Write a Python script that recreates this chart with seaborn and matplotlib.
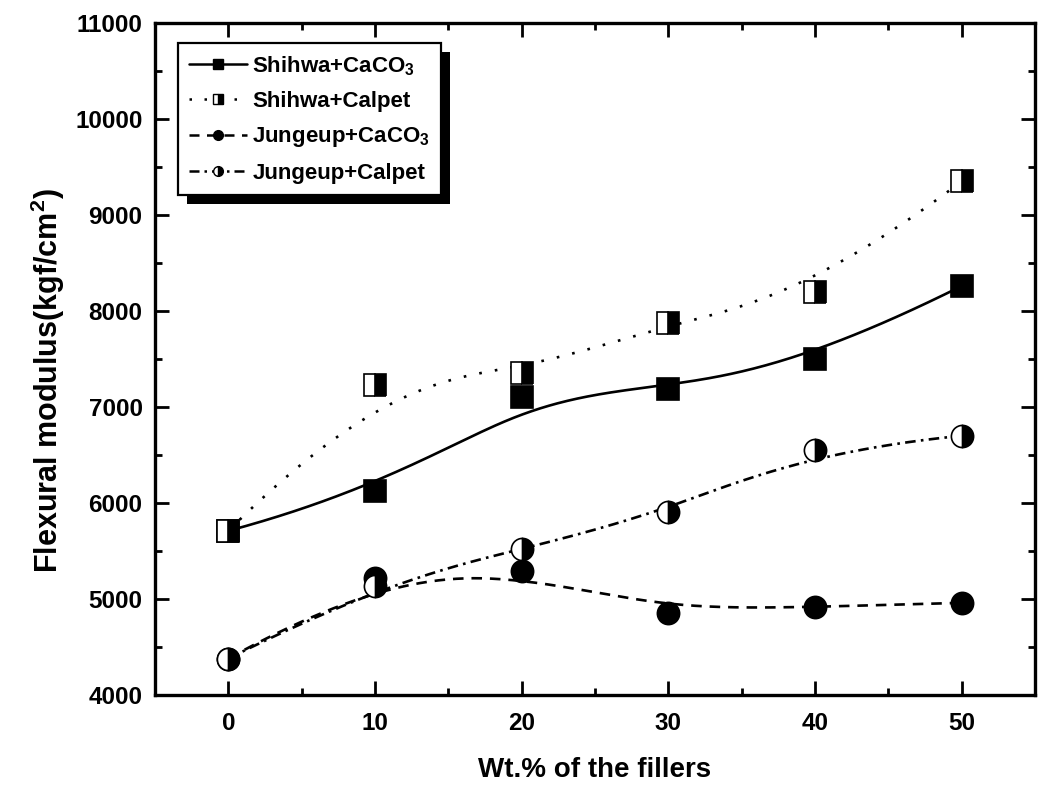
import numpy as np
import matplotlib
matplotlib.use("Agg")
import matplotlib.pyplot as plt
from matplotlib.lines import Line2D
from matplotlib.patches import Rectangle
import seaborn as sns

# ---- data ----
filler_wt = [0, 10, 20, 30, 40, 50]
shihwa_caco3 = [5710, 6120, 7100, 7190, 7500, 8260]
shihwa_calpet = [5710, 7230, 7350, 7880, 8200, 9350]
jungeup_caco3 = [4380, 5220, 5290, 4850, 4920, 4960]
jungeup_calpet = [4380, 5140, 5520, 5910, 6550, 6700]
series_labels = ["Shihwa+CaCO$_3$", "Shihwa+Calpet",
                 "Jungeup+CaCO$_3$", "Jungeup+Calpet"]
x_ticks = [0, 10, 20, 30, 40, 50]
y_ticks = [4000, 5000, 6000, 7000, 8000, 9000, 10000, 11000]

sns.set_style("ticks")
plt.rcParams["font.family"] = ["Liberation Sans", "DejaVu Sans"]
plt.rcParams["font.weight"] = "bold"
plt.rcParams["mathtext.fontset"] = "custom"
plt.rcParams["mathtext.rm"] = "Liberation Sans:bold"
plt.rcParams["mathtext.bf"] = "Liberation Sans:bold"
plt.rcParams["mathtext.default"] = "bf"
for key in ["text.color", "axes.labelcolor", "xtick.color", "ytick.color",
            "axes.edgecolor"]:
    plt.rcParams[key] = "black"


def bspline_curve(xs, ys, k=3, n=300):
    """Clamped cubic B-spline with the data points as control points (Origin 'B-Spline')."""
    P = np.column_stack([xs, ys]).astype(float)
    m = len(P)
    knots = np.concatenate([[0] * k, np.arange(m - k + 1), [m - k] * k]).astype(float)
    t = np.linspace(0, m - k, n)
    t[-1] -= 1e-9
    N = np.zeros((n, len(knots) - 1))
    for i in range(len(knots) - 1):
        N[:, i] = (t >= knots[i]) & (t < knots[i + 1])
    for d in range(1, k + 1):
        Nn = np.zeros((n, len(knots) - 1 - d))
        for i in range(len(knots) - 1 - d):
            a = knots[i + d] - knots[i]
            b = knots[i + d + 1] - knots[i + 1]
            term = np.zeros(n)
            if a > 0:
                term += (t - knots[i]) / a * N[:, i]
            if b > 0:
                term += (knots[i + d + 1] - t) / b * N[:, i + 1]
            Nn[:, i] = term
        N = Nn
    C = N @ P
    return C[:, 0], C[:, 1]


fig = plt.figure(figsize=(10.45, 7.91), dpi=100)
ax = fig.add_axes([155 / 1045, 96 / 791, 880 / 1045, 672 / 791])

lw = 1.9
styles = [
    dict(ls="-", marker="s", fill="full"),
    dict(ls=(0, (1, 5)), marker="s", fill="right"),
    dict(ls=(0, (4, 3)), marker="o", fill="full"),
    dict(ls=(0, (4, 2, 1, 2)), marker="o", fill="right"),
]
all_series = [shihwa_caco3, shihwa_calpet, jungeup_caco3, jungeup_calpet]

for vals, st in zip(all_series, styles):
    cx, cy = bspline_curve(filler_wt, vals)
    sns.lineplot(x=cx, y=cy, sort=False, estimator=None, color="black",
                 linewidth=lw, linestyle=st["ls"], ax=ax, legend=False)

for vals, st in zip(all_series, styles):
    ax.plot(filler_wt, vals, linestyle="none", marker=st["marker"],
            markersize=15.5 if st["marker"] == "s" else 16,
            markerfacecolor="black", markerfacecoloralt="white",
            fillstyle=st["fill"], markeredgecolor="black",
            markeredgewidth=1.2, zorder=5)

ax.set_xlim(-5, 55)
ax.set_ylim(4000, 11000)
ax.set_xticks(x_ticks)
ax.set_yticks(y_ticks)
ax.set_xticks(np.arange(-5, 56, 5), minor=True)
ax.set_yticks(np.arange(4000, 11001, 500), minor=True)
ax.tick_params(which="both", direction="in", top=True, right=True,
               width=2, labelsize=17.5, colors="black")
ax.tick_params(which="major", length=10)
ax.tick_params(which="minor", length=5)
ax.tick_params(axis="x", pad=12)
ax.tick_params(axis="y", pad=9)
for lab in ax.get_xticklabels() + ax.get_yticklabels():
    lab.set_fontweight("bold")
for sp in ax.spines.values():
    sp.set_linewidth(2.4)
    sp.set_color("black")

ax.set_xlabel("Wt.% of the fillers", fontsize=20, fontweight="bold",
              labelpad=16, color="black")
ax.set_ylabel("Flexural modulus(kgf/cm$^2$)", fontsize=22, fontweight="bold",
              color="black")
ax.yaxis.set_label_coords(-0.10, 0.468)

handles = []
for st, lab in zip(styles, series_labels):
    handles.append(Line2D([0], [0], color="black", linewidth=1.8,
                          linestyle=st["ls"], marker=st["marker"], markersize=7,
                          markerfacecolor="black", markerfacecoloralt="white",
                          fillstyle=st["fill"], markeredgecolor="black",
                          markeredgewidth=1.0, label=lab))
leg = ax.legend(handles=handles, loc="upper left",
                bbox_to_anchor=(23 / 880, 1 - 20 / 672),
                frameon=True, fancybox=False, fontsize=16, framealpha=1,
                facecolor="white", edgecolor="black",
                handlelength=2.6, handletextpad=0.25, labelspacing=0.6,
                borderpad=0.5, borderaxespad=0)
leg.get_frame().set_linewidth(1.6)
for txt in leg.get_texts():
    txt.set_color("black")
leg.set_zorder(20)

fig.canvas.draw()
bb = leg.get_window_extent()
off = 9
shadow = Rectangle((bb.x0 + off, bb.y0 - off), bb.width, bb.height,
                   transform=None, facecolor="black", edgecolor="none",
                   zorder=19)
ax.add_artist(shadow)

fig.savefig("out.png", dpi=100)
